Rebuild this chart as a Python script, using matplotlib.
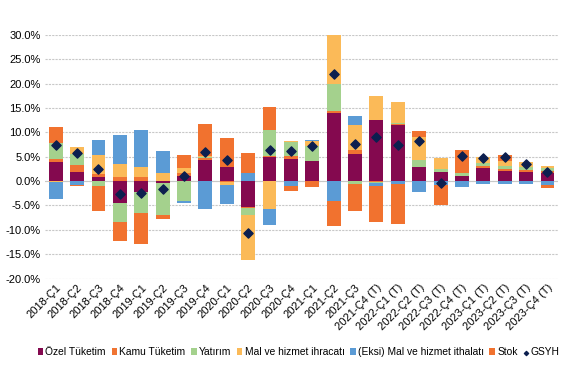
import numpy as np
import matplotlib
matplotlib.use('Agg')
import matplotlib.pyplot as plt

plt.rcParams['font.family'] = ['Liberation Sans', 'DejaVu Sans']

# Çeyrekler
ceyrekler = ['2018-Ç1', '2018-Ç2', '2018-Ç3', '2018-Ç4',
             '2019-Ç1', '2019-Ç2', '2019-Ç3', '2019-Ç4',
             '2020-Ç1', '2020-Ç2', '2020-Ç3', '2020-Ç4',
             '2021-Ç1', '2021-Ç2', '2021-Ç3', '2021-Ç4 (T)',
             '2022-Ç1 (T)', '2022-Ç2 (T)', '2022-Ç3 (T)', '2022-Ç4 (T)',
             '2023-Ç1 (T)', '2023-Ç2 (T)', '2023-Ç3 (T)', '2023-Ç4 (T)']

# Büyümeye katkılar (yüzde puan)
ozel_tuketim = [3.9, 1.8, 0.75, -4.4, -2.3, -0.3, 1.0, 4.4, 3.0, -5.4, 5.0, 4.5,
                4.1, 14.0, 5.5, 12.6, 11.6, 3.0, 1.8, 1.1, 2.6, 2.15, 1.9, 1.75]
kamu_tuketim = [0.6, 1.45, 0.8, 0.75, 0.75, 0.0, 0.75, 0.3, -0.1, -0.2, 0.2, 0.6,
                0.0, 0.4, 0.8, -0.1, 0.1, 0.0, 0.0, 0.0, 0.6, 0.4, 0.4, 0.4]
yatirim = [3.3, 2.3, -1.1, -3.9, -4.3, -6.6, -4.0, 0.2, -0.1, -1.4, 5.3, 2.9,
           3.1, 5.6, -0.5, -0.3, 0.2, 1.3, 0.6, 0.6, 0.6, 0.6, 0.6, 0.6]
ihracat = [-0.2, 1.45, 3.9, 2.7, 2.1, 1.6, 1.0, 0.2, -0.5, -9.1, -5.7, 0.2,
           1.0, 11.1, 5.2, 4.9, 4.3, 4.7, 2.3, 0.0, 1.25, 1.0, 1.0, 0.4]
ithalat = [-3.5, -0.7, 2.9, 6.0, 7.6, 4.5, -0.5, -5.8, -4.1, 1.6, -3.3, -0.9,
           0.2, -4.0, 1.9, -0.5, -0.6, -2.2, -0.8, -1.2, -0.5, -0.5, -0.5, -0.7]
stok = [3.4, -0.4, -5.0, -3.9, -6.3, -0.8, 2.7, 6.7, 5.8, 4.1, 4.8, -1.2,
        -1.3, -5.2, -5.6, -7.4, -8.3, 1.25, -4.2, 4.6, 0.0, 1.2, 0.0, -0.7]
gsyh = [7.4, 5.7, 2.4, -2.7, -2.5, -1.7, 1.0, 5.9, 4.3, -10.6, 6.3, 6.1,
        7.2, 21.9, 7.6, 9.0, 7.4, 8.2, -0.3, 5.1, 4.65, 4.9, 3.5, 1.95]

seriler = [
    ('Özel Tüketim', ozel_tuketim, '#84094F'),
    ('Kamu Tüketim', kamu_tuketim, '#F07432'),
    ('Yatırım', yatirim, '#A4D18D'),
    ('Mal ve hizmet ihracatı', ihracat, '#FBBA58'),
    ('(Eksi) Mal ve hizmet ithalatı', ithalat, '#5B9BD5'),
    ('Stok', stok, '#F1722F'),
]

fig = plt.figure(figsize=(5.67, 3.89), dpi=100)
ax = fig.add_axes([0.0794, 0.284, 0.905, 0.626])

x = np.arange(len(ceyrekler))
pos_alt = np.zeros(len(x))
neg_alt = np.zeros(len(x))
handles = []
for ad, deger, renk in seriler:
    d = np.array(deger, dtype=float)
    alt = np.where(d >= 0, pos_alt, neg_alt)
    h = ax.bar(x, d, 0.65, bottom=alt, color=renk, label=ad, zorder=2)
    handles.append(h)
    pos_alt = pos_alt + np.where(d > 0, d, 0)
    neg_alt = neg_alt + np.where(d < 0, d, 0)

h = ax.scatter(x, gsyh, marker='D', s=22, color='#0C1F4F', zorder=3, label='GSYH')
handles.append(h)

ax.set_xlim(-0.5, len(x) - 0.5)
ax.set_ylim(-20, 30)
ax.set_yticks(np.arange(-20, 31, 5))
ax.set_yticklabels([f'{v:.1f}%' for v in np.arange(-20, 31, 5)], fontsize=8)
ax.set_xticks(x)
ax.set_xticklabels(ceyrekler, rotation=45, ha='right', rotation_mode='anchor', fontsize=8)
ax.tick_params(length=0, pad=3)
for s in ax.spines.values():
    s.set_visible(False)
ax.yaxis.grid(True, color='#C8C8C8', linestyle=(0, (2, 1)), linewidth=0.8, zorder=0)
ax.axhline(0, color='#C8C8C8', linewidth=0.8, zorder=1)
ax.set_axisbelow(True)

fig.legend(handles=handles, labels=[hh.get_label() for hh in handles],
           loc='center', bbox_to_anchor=(0.527, 0.095), ncol=7, fontsize=7.4, frameon=False,
           handlelength=0.55, handleheight=0.55, handletextpad=0.2, columnspacing=0.55,
           markerscale=0.45, borderpad=0.1)

fig.savefig('out.png', dpi=100)
